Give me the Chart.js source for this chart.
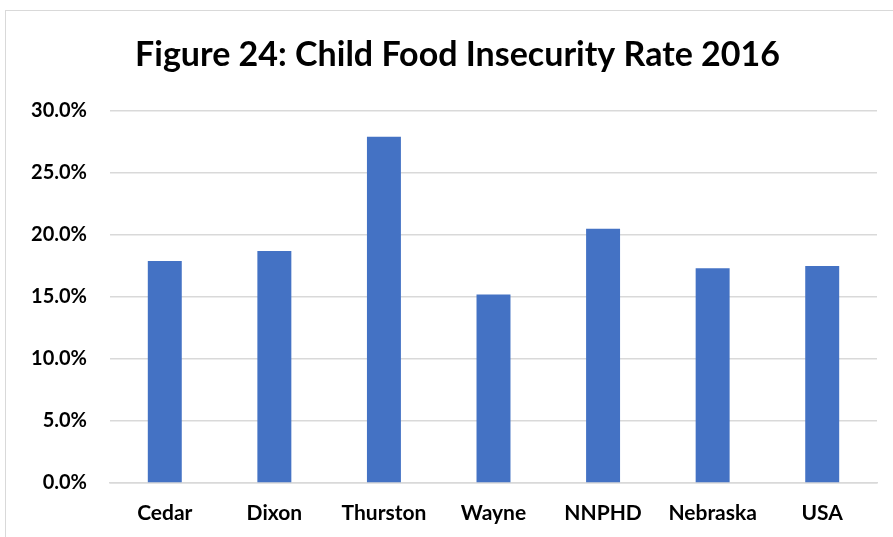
<!DOCTYPE html>
<html>
<head>
<meta charset="utf-8">
<script src="https://cdn.jsdelivr.net/npm/chart.js@4"></script>
<style>
  html, body { margin: 0; padding: 0; background: #fff; overflow: hidden; width: 893px; height: 537px; }
  #frame {
    position: absolute; left: 5px; top: 10px;
    width: 904px; height: 540px;
    border: 1px solid #d9d9d9; box-sizing: border-box;
  }
  #wrap { position: absolute; left: 1px; top: 1px; width: 901px; height: 526px; }
</style>
</head>
<body>
<div id="frame"><div id="wrap"><canvas id="c"></canvas></div></div>
<script>
// Child food insecurity rate (%), 2016
const categories = ["Cedar", "Dixon", "Thurston", "Wayne", "NNPHD", "Nebraska", "USA"];
const rates = [17.9, 18.7, 27.9, 15.2, 20.5, 17.3, 17.5];
const yTicks = [0, 5, 10, 15, 20, 25, 30];

const FONT = "Lato, 'Open Sans', sans-serif";

new Chart(document.getElementById("c"), {
  type: "bar",
  data: {
    labels: categories,
    datasets: [{
      data: rates,
      backgroundColor: "#4472C4",
      barPercentage: 0.31,
      categoryPercentage: 1.0
    }]
  },
  options: {
    responsive: true,
    maintainAspectRatio: false,
    animation: false,
    layout: { padding: 0 },
    plugins: {
      legend: { display: false },
      tooltip: { enabled: false },
      title: {
        display: true,
        text: "Figure 24: Child Food Insecurity Rate 2016",
        color: "#000",
        font: { family: FONT, size: 34, weight: "bold" },
        padding: { top: 23, bottom: 35 }
      }
    },
    scales: {
      x: {
        grid: { display: false, drawTicks: false },
        border: { display: true, color: "#d9d9d9", width: 1.5 },
        ticks: {
          color: "#000",
          font: { family: FONT, size: 21, weight: "bold" },
          padding: 18
        },
        afterFit: (s) => { s.height = 55; }
      },
      y: {
        min: 0, max: 30,
        afterBuildTicks: (s) => { s.ticks = yTicks.map(v => ({ value: v })); },
        grid: { color: "#d9d9d9", lineWidth: 1.5, drawTicks: false },
        border: { display: false },
        ticks: {
          color: "#000",
          font: { family: FONT, size: 20, weight: "bold" },
          padding: 23,
          callback: (v) => v.toFixed(1) + "%"
        },
        afterFit: (s) => { s.width = 103; }
      },
      // empty margin on the right of the plot area
      rightGap: {
        type: "linear",
        position: "right",
        grid: { display: false, drawTicks: false },
        border: { display: false },
        ticks: { display: false },
        afterFit: (s) => { s.width = 31; }
      }
    }
  }
});
</script>
</body>
</html>
